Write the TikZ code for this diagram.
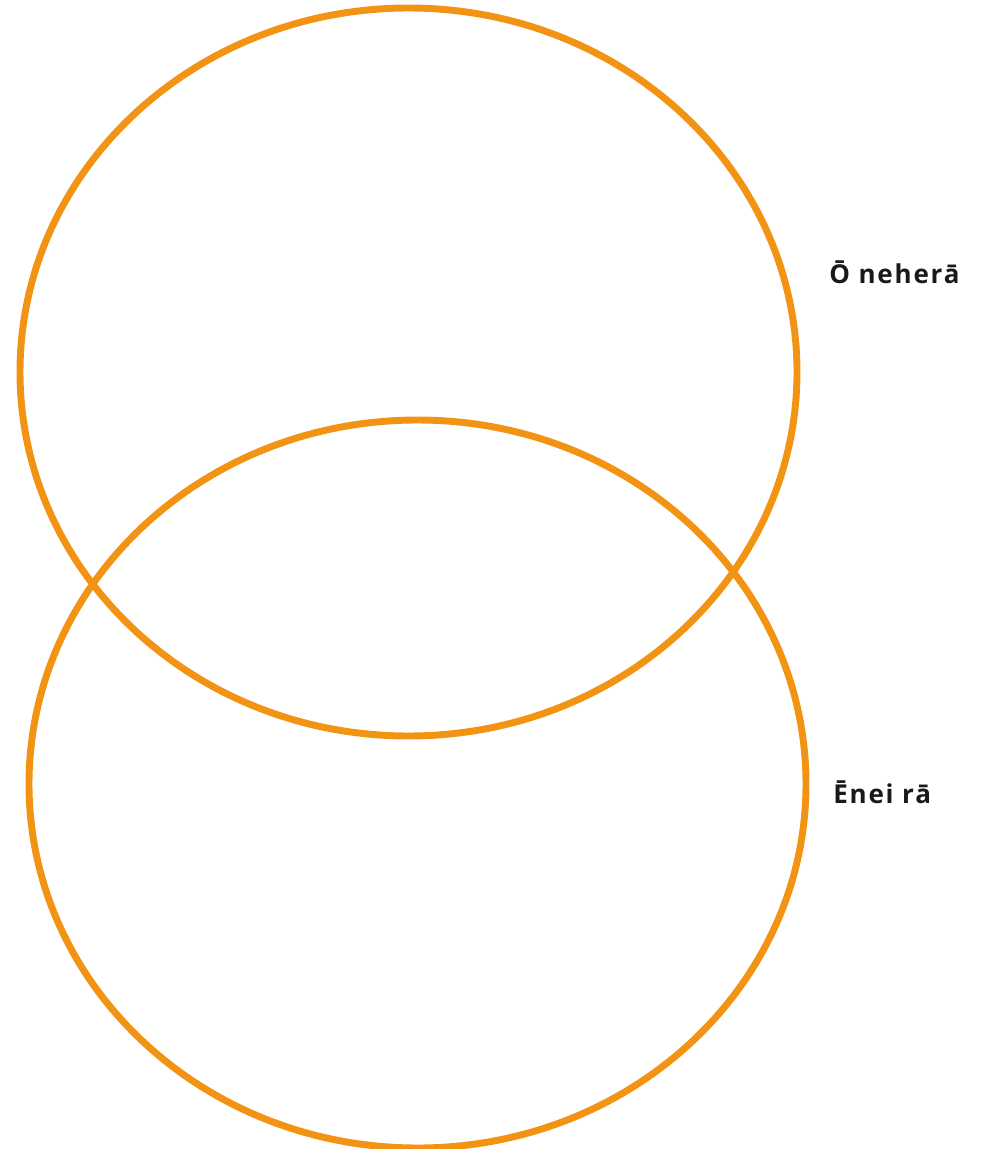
\documentclass[tikz,border=0pt]{standalone}
\usepackage{fontspec}
\setmainfont{Open Sans}
\newfontfamily\labelfont{Open Sans}[LetterSpace=7]
\usepackage{xcolor}
\definecolor{vennorange}{HTML}{F39314}

\begin{document}
\begin{tikzpicture}[
    x=0.75pt, y=-0.75pt,
    ring/.style={draw=vennorange, line width=5.2pt},
    setlabel/.style={font=\labelfont\bfseries\fontsize{19.5}{23}\selectfont, text=black!90, anchor=west, inner sep=0pt},
]
\useasboundingbox (0,0) rectangle (982,1149);
\clip (0,0) rectangle (982,1149);

% Sets
\draw[ring] (408.5,372) ellipse [x radius=388.5, y radius=364];
\draw[ring] (417.5,784) ellipse [x radius=388.5, y radius=364];

% Labels
\node[setlabel] (past) at (829,272) {Ō neherā};
\node[setlabel] (today) at (833,792) {Ēnei rā};

\end{tikzpicture}
\end{document}
